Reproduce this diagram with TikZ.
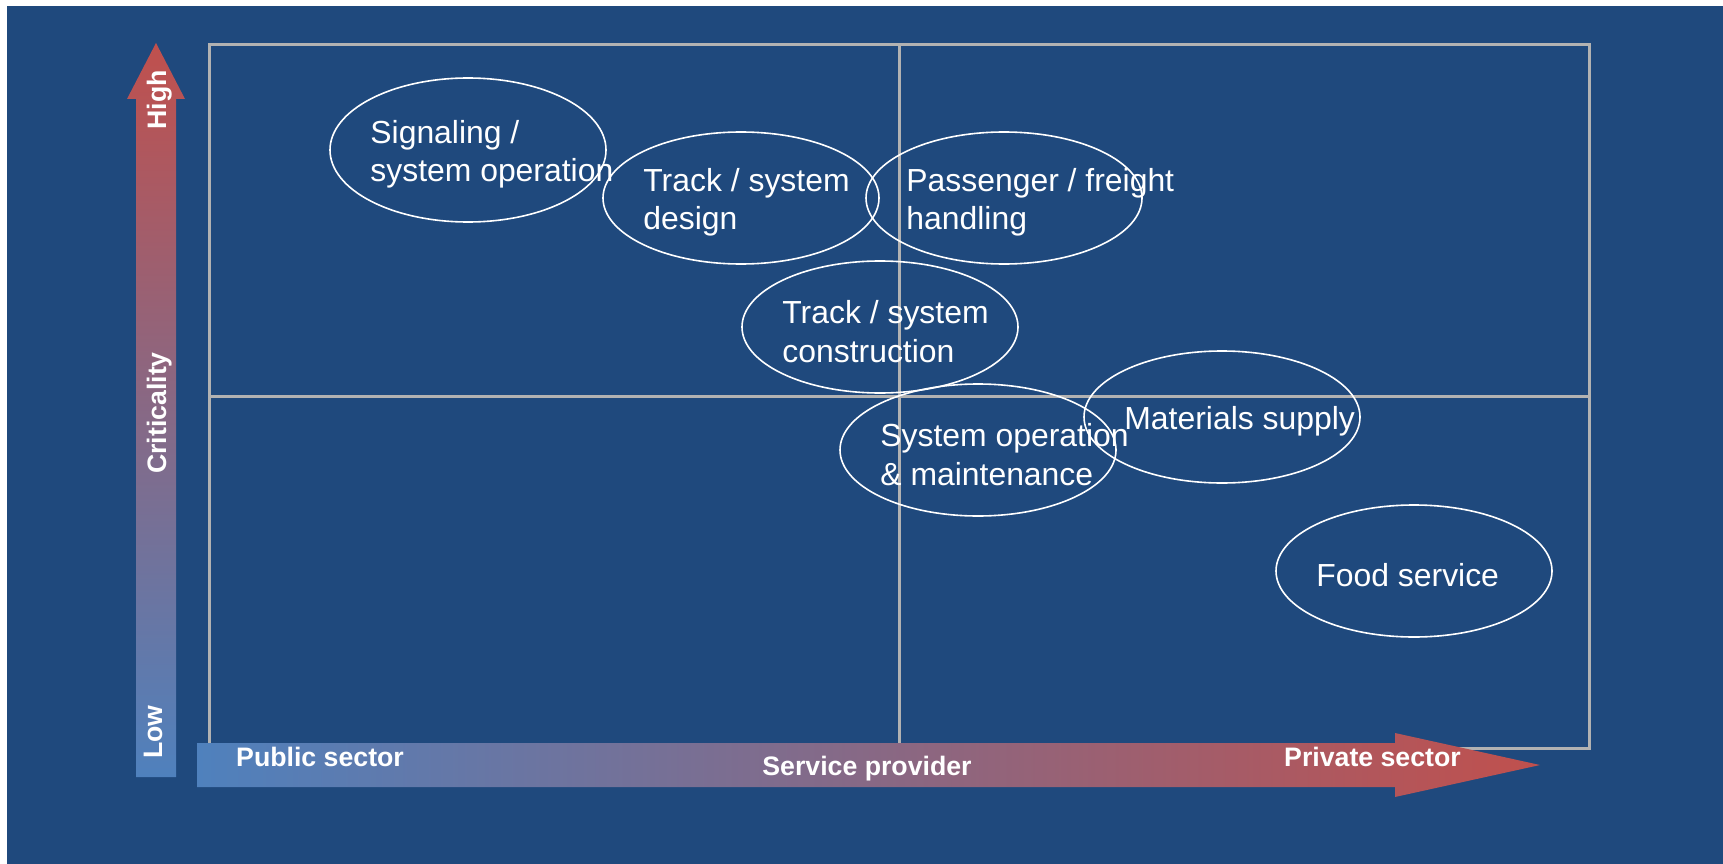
\documentclass[tikz,border=0pt]{standalone}
\usepackage{fontspec}
\setmainfont{Liberation Sans}
\usetikzlibrary{shapes.geometric, positioning}

\definecolor{navy}{RGB}{31,73,125}
\definecolor{lowblue}{RGB}{79,129,189}
\definecolor{highred}{RGB}{192,80,77}
\definecolor{gridgray}{RGB}{178,178,178}

\begin{document}
\begin{tikzpicture} [x=1pt, y=-1pt,
            node distance = 41pt,
            bubble/.style = {ellipse, draw=white, line width=1.6pt,
                minimum width=276pt, minimum height=132pt},
            tag/.style = {text=white, inner sep=0pt, align=left, yshift=-4.5pt,
                font=\fontsize{31.9}{38.5}\selectfont},
            axis/.style = {text=white, inner sep=0pt,
                font=\bfseries\fontsize{26.7}{30}\selectfont}]

            % Page and background
            \fill [white] (0,0) rectangle (1723,864);
            \fill [navy] (7,6) rectangle (1723,864);

            % Quadrant grid
            \coordinate (nw) at (209,45);
            \coordinate (se) at (1589,748);
            \coordinate (mid) at (899,396);
            \draw [gridgray, line width=3pt] (nw) rectangle (se);
            \draw [gridgray, line width=3pt]
                (nw -| mid) -- (se -| mid)
                (nw |- mid) -- (se |- mid);

            % Axis arrows
            \shade [left color=lowblue, right color=highred]
                (197,743) -- (1395,743) -- (1395,733) -- (1540,765)
                -- (1395,797) -- (1395,787) -- (197,787) -- cycle;
            \shade [bottom color=lowblue, top color=highred]
                (136,777) -- (136,99) -- (127,99) -- (156,43)
                -- (185,99) -- (176,99) -- (176,777) -- cycle;

            % Axis labels
            \node (high) [axis, rotate=90, anchor=base] at (166,100) {High};
            \node (crit) [axis, rotate=90, anchor=base] at (166,413) {Criticality};
            \node (low) [axis, rotate=90, anchor=base] at (162,732) {Low};
            \node (public) [axis, anchor=base west] at (236,766) {Public sector};
            \node (provider) [axis, anchor=base] at (867,775) {Service provider};
            \node (private) [axis, anchor=base east] at (1461,766) {Private sector};

            % Signaling
            \node (sig) [bubble, minimum height=144pt] at (468,150) {};
            \node (sigtxt) [tag, right = of sig.west] {Signaling /\\system operation};

            % Track design
            \node (design) [bubble] at (741,198) {};
            \node (designtxt) [tag, right = of design.west] {Track / system\\design};

            % Passenger handling
            \node (freight) [bubble] at (1004,198) {};
            \node (freighttxt) [tag, right = of freight.west] {Passenger / freight\\handling};

            % Track construction
            \node (build) [bubble] at (880,327) {};
            \node (buildtxt) [tag, right = of build.west] {Track / system\\construction};

            % Operation and maintenance
            \node (maint) [bubble] at (978,450) {};
            \node (mainttxt) [tag, right = of maint.west] {System operation\\\& maintenance};

            % Materials
            \node (supply) [bubble] at (1222,417) {};
            \node (supplytxt) [tag, right = of supply.west] {Materials supply};

            % Food
            \node (food) [bubble] at (1414,571) {};
            \node (foodtxt) [tag, right = of food.west] {Food service};
        \end{tikzpicture}
\end{document}
